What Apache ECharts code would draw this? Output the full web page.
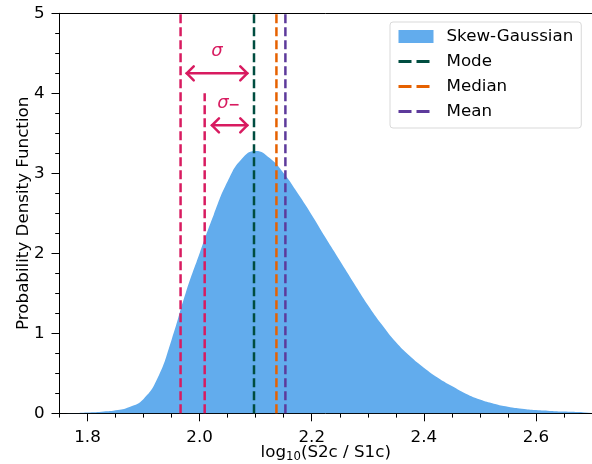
<!DOCTYPE html>
<html>
<head>
<meta charset="utf-8">
<script src="https://cdn.jsdelivr.net/npm/echarts@6/dist/echarts.min.js"></script>
<style>
html,body{margin:0;padding:0;background:#fff;}
#chart{width:592px;height:464px;}
</style>
</head>
<body>
<div id="chart"></div>
<script>
// Skew-Gaussian PDF samples
const xValues = [1.75, 1.775, 1.8, 1.825, 1.85, 1.875, 1.9, 1.925, 1.95, 1.975, 2.0, 2.025, 2.05, 2.075, 2.1, 2.125, 2.15, 2.175, 2.2, 2.225, 2.25, 2.275, 2.3, 2.325, 2.35, 2.375, 2.4, 2.425, 2.45, 2.475, 2.5, 2.525, 2.55, 2.575, 2.6, 2.625, 2.65, 2.675, 2.7];
const pdfValues = [0.0, 0.003, 0.01, 0.02, 0.037, 0.08, 0.18, 0.44, 0.92, 1.5, 2.0, 2.48, 2.9, 3.18, 3.28, 3.19, 3.0, 2.75, 2.48, 2.19, 1.91, 1.63, 1.355, 1.11, 0.89, 0.715, 0.57, 0.445, 0.34, 0.245, 0.172, 0.12, 0.082, 0.057, 0.04, 0.03, 0.022, 0.016, 0.012];

// statistics lines
const modeX = 2.097;
const medianX = 2.137;
const meanX = 2.153;
const sigmaLineX = 1.966;
const sigmaMinusX = 2.009;
const sigmaMinusTop = 4.0;
const yTop = 5;

// arrows [x0, x1, y]
const arrowData = [[1.977, 2.085, 4.25], [2.022, 2.085, 3.6]];
// labels [x, y, text]
const labelData = [[2.031, 4.52, 'σ'], [2.052, 3.87, 'σ{sub|−}']];

const xTicks = [1.8, 2.0, 2.2, 2.4, 2.6];
const xMinorTicks = [1.75, 1.85, 1.9, 1.95, 2.05, 2.1, 2.15, 2.25, 2.3, 2.35, 2.45, 2.5, 2.55, 2.65];
const yTicks = [0, 1, 2, 3, 4, 5];

const PINK = '#d81b60', MODE_C = '#004d40', MED_C = '#e66100', MEAN_C = '#5d3a9b';
const FONT = 'DejaVu Sans';
const FS = 16.7;

const dash = [9, 4];

function vline(name, x, top, color) {
  return {
    name: name, type: 'line', data: [[x, 0], [x, top]], symbol: 'none', silent: true,
    lineStyle: { color: color, width: 2.5, type: dash }, itemStyle: { color: color }, z: 5
  };
}
function legendLine(name) {
  return { name: name, itemStyle: { opacity: 0, borderWidth: 0 }, lineStyle: { type: [13, 5], width: 3 } };
}

const chart = echarts.init(document.getElementById('chart'), null, { renderer: 'canvas' });
chart.setOption({
  animation: false,
  backgroundColor: '#fff',
  textStyle: { fontFamily: FONT },
  grid: { left: 59.5, right: 0, top: 13.3, bottom: 50.7, containLabel: false, outerBoundsMode: 'none' },
  legend: {
    orient: 'vertical', left: 390, top: 22,
    itemWidth: 35, itemHeight: 13, itemGap: 8,
    padding: [6, 8, 8, 7],
    borderColor: '#d9d9d9', borderWidth: 1, borderRadius: 3,
    backgroundColor: 'rgba(255,255,255,0.8)',
    textStyle: { fontFamily: FONT, fontSize: FS, color: '#000', lineHeight: 17, padding: [0, 0, 0, 8] },
    data: [
      { name: 'Skew-Gaussian', icon: 'rect' },
      legendLine('Mode'), legendLine('Median'), legendLine('Mean')
    ]
  },
  xAxis: [{
    type: 'value', min: 1.75, max: 2.7,
    name: 'log{sub|10}(S2c / S1c)', nameLocation: 'middle', nameGap: 28, nameMoveOverlap: false,
    nameTextStyle: {
      fontFamily: FONT, fontSize: FS, color: '#000', lineHeight: 22,
      rich: { sub: { fontFamily: FONT, fontSize: 11.7, color: '#000', verticalAlign: 'bottom', lineHeight: 12 } }
    },
    interval: 0.05,
    axisLine: { show: true, onZero: false, lineStyle: { color: '#000', width: 1 } },
    axisTick: { show: true, length: 8, lineStyle: { color: '#000', width: 1 },
      customValues: xTicks },
    minorTick: { show: false },
    axisLabel: { fontFamily: FONT, fontSize: FS, color: '#000', margin: 16,
      customValues: xTicks, formatter: v => v.toFixed(1) },
    splitLine: { show: false }
  }, {
    // minor ticks
    type: 'value', min: 1.75, max: 2.7, position: 'bottom',
    axisLine: { show: false },
    axisTick: { show: true, length: 4.3, lineStyle: { color: '#000', width: 1 },
      customValues: xMinorTicks },
    axisLabel: { show: false }, splitLine: { show: false }
  }, {
    type: 'value', min: 1.75, max: 2.7, position: 'top',
    axisLine: { show: true, lineStyle: { color: '#000', width: 1 } },
    axisTick: { show: false }, axisLabel: { show: false }, splitLine: { show: false }
  }],
  yAxis: [{
    type: 'value', min: 0, max: 5, interval: 1,
    name: 'Probability Density Function', nameLocation: 'middle', nameGap: 27, nameMoveOverlap: false,
    nameTextStyle: { fontFamily: FONT, fontSize: FS, color: '#000' },
    axisLine: { show: true, lineStyle: { color: '#000', width: 1 } },
    axisTick: { show: true, length: 8, lineStyle: { color: '#000', width: 1 } },
    minorTick: { show: true, splitNumber: 4, length: 4.3, lineStyle: { color: '#000', width: 1 } },
    axisLabel: { fontFamily: FONT, fontSize: FS, color: '#000', margin: 15,
      customValues: yTicks },
    splitLine: { show: false }
  }],
  series: [
    {
      name: 'Skew-Gaussian', type: 'line', data: xValues.map((x, i) => [x, pdfValues[i]]),
      smooth: 0.5, symbol: 'none', silent: true,
      lineStyle: { width: 0 }, itemStyle: { color: 'rgb(98,172,237)' },
      areaStyle: { color: 'rgb(98,172,237)', opacity: 1 }, z: 2
    },
    vline('σline', sigmaLineX, yTop, PINK),
    vline('σminus', sigmaMinusX, sigmaMinusTop, PINK),
    vline('Mode', modeX, yTop, MODE_C),
    vline('Median', medianX, yTop, MED_C),
    vline('Mean', meanX, yTop, MEAN_C),
    {
      name: 'arrows', type: 'custom', silent: true, z: 6,
      data: arrowData,
      renderItem: function (params, api) {
        const p0 = api.coord([api.value(0), api.value(2)]);
        const p1 = api.coord([api.value(1), api.value(2)]);
        const h = 7, w = 7;
        const st = { stroke: PINK, lineWidth: 2.5, fill: null, lineCap: 'round', lineJoin: 'miter' };
        return {
          type: 'group', children: [
            { type: 'line', shape: { x1: p0[0], y1: p0[1], x2: p1[0], y2: p1[1] }, style: st },
            { type: 'polyline', shape: { points: [[p0[0] + w, p0[1] - h], [p0[0], p0[1]], [p0[0] + w, p0[1] + h]] }, style: st },
            { type: 'polyline', shape: { points: [[p1[0] - w, p1[1] - h], [p1[0], p1[1]], [p1[0] - w, p1[1] + h]] }, style: st }
          ]
        };
      }
    },
    {
      name: 'labels', type: 'custom', silent: true, z: 6,
      data: labelData.map(d => [d[0], d[1]]),
      renderItem: function (params, api) {
        const p = api.coord([api.value(0), api.value(1)]);
        return {
          type: 'text', x: p[0], y: p[1],
          style: {
            text: labelData[params.dataIndex][2],
            fontFamily: FONT, fontStyle: 'italic', fontSize: 18, fill: PINK,
            align: 'center', verticalAlign: 'middle',
            rich: { sub: { fontFamily: FONT, fontSize: 14, fill: PINK, fontWeight: 'bold', verticalAlign: 'bottom', lineHeight: 14 } }
          }
        };
      }
    }
  ]
});
</script>
</body>
</html>
